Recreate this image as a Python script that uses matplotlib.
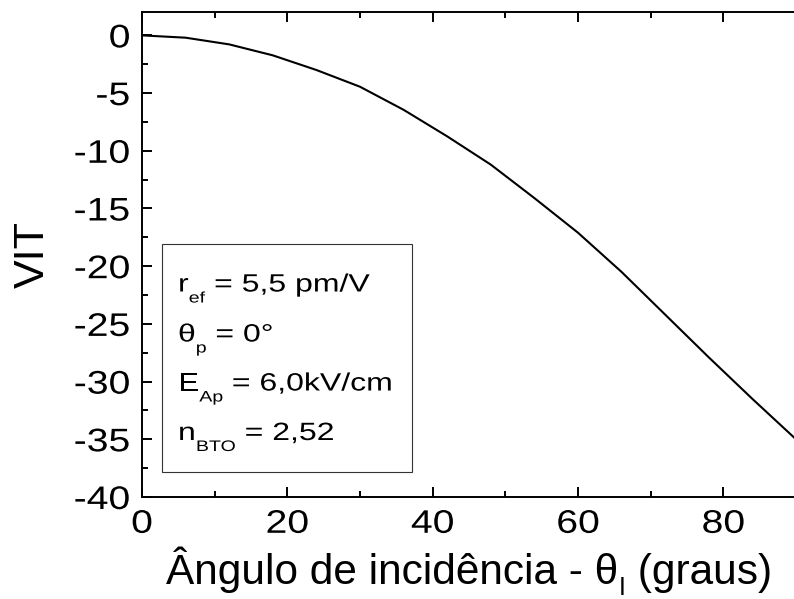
import matplotlib
matplotlib.use("Agg")
import matplotlib.pyplot as plt
from matplotlib.patches import Rectangle
from matplotlib.transforms import IdentityTransform, Affine2D
from matplotlib.patheffects import AbstractPathEffect
from matplotlib.ticker import MultipleLocator

plt.rcParams['font.family'] = ['Liberation Sans', 'DejaVu Sans']

# Incidence angle (degrees) and computed VIT
theta_i = [0, 6, 12, 18, 24, 30, 36, 42, 48, 54, 60, 66, 72, 78, 84, 90]
vit = [0.0, -0.2, -0.78, -1.73, -3.0, -4.45, -6.45, -8.75, -11.2, -14.1,
       -17.1, -20.5, -24.2, -27.9, -31.5, -35.0]

x_ticks = [0, 20, 40, 60, 80]
y_ticks = [0, -5, -10, -15, -20, -25, -30, -35, -40]

# Parameter box lines: list of (text, is_subscript) segments
param_lines = [
    [("r", False), ("ef", True), (" = 5,5 pm/V", False)],
    [("θ", False), ("p", True), (" = 0°", False)],
    [("E", False), ("Ap", True), (" = 6,0kV/cm", False)],
    [("n", False), ("BTO", True), (" = 2,52", False)],
]
xlabel_segments = [("Ângulo de incidência - θ", False), ("I", True), (" (graus)", False)]

TICK_STRETCH = 1.2   # horizontal widening of tick lettering
BOX_STRETCH = 1.28   # horizontal widening of box lettering


class HStretch(AbstractPathEffect):
    """Widen glyphs horizontally about the left origin, ink centre or ink right edge."""

    def __init__(self, sx, anchor='left'):
        super().__init__()
        self.sx = sx
        self.anchor = anchor

    def draw_path(self, renderer, gc, tpath, affine, rgbFace=None):
        if self.anchor == 'left':
            x0 = affine.transform((0, 0))[0]
        else:
            ext = tpath.get_extents(affine)
            x0 = ext.x1 if self.anchor == 'right' else 0.5 * (ext.x0 + ext.x1)
        tr = affine + Affine2D().translate(-x0, 0).scale(self.sx, 1).translate(x0, 0)
        renderer.draw_path(gc, tpath, tr, rgbFace)


W, H = 794, 599
fig = plt.figure(figsize=(W / 100, H / 100), dpi=100)
ax = fig.add_axes([142 / W, 1 - 497 / H, (796 - 142) / W, (497 - 12.3) / H])

ax.plot(theta_i, vit, color='black', lw=1.5)
ax.set_xlim(0, 90)
ax.set_ylim(-40, 2)
ax.set_xticks(x_ticks)
ax.set_yticks(y_ticks)
ax.xaxis.set_minor_locator(MultipleLocator(10))
ax.yaxis.set_minor_locator(MultipleLocator(2.5))
ax.tick_params(which='both', direction='in', top=True, right=False,
               width=1.4, labelsize=23.5)
ax.tick_params(which='major', length=7.5)
ax.tick_params(which='minor', length=4.3)
ax.tick_params(axis='y', pad=8.5)
ax.tick_params(axis='x', pad=8.5)
for s in ax.spines.values():
    s.set_linewidth(1.4)
ax.set_yticklabels([str(v) for v in y_ticks])
ax.set_xticklabels([str(v) for v in x_ticks])

# Parameter box
ax.add_patch(Rectangle((162 / W, 1 - 472.3 / H), (412.3 - 162) / W, (472.3 - 244.3) / H,
                       transform=fig.transFigure, fill=False, edgecolor='#333333',
                       lw=0.8, zorder=3))

fig.canvas.draw()
renderer = fig.canvas.get_renderer()

for lab in ax.get_yticklabels():
    lab.set_path_effects([HStretch(TICK_STRETCH, 'right')])
for lab in ax.get_xticklabels():
    lab.set_path_effects([HStretch(TICK_STRETCH, 'center')])


def rich_text(x_px, base_px, segments, size, sub_size, drop_px, sx=1.0,
              measure_only=False):
    x = x_px
    for text, sub in segments:
        fs = sub_size if sub else size
        y = H - base_px - (drop_px if sub else 0)
        t = fig.text(x, y, text, fontsize=fs, transform=IdentityTransform(),
                     ha='left', va='baseline', color='black')
        bb = t.get_window_extent(renderer)
        x += bb.width * sx
        if measure_only:
            t.remove()
        elif sx != 1.0:
            t.set_path_effects([HStretch(sx, 'left')])
    return x - x_px


baselines = [291.5, 341.5, 390.5, 440.0]
for segs, b in zip(param_lines, baselines):
    rich_text(178, b, segs, 18, 11, 11, sx=BOX_STRETCH)

# x axis label centred under the axes
width = rich_text(0, 0, xlabel_segments, 30.5, 18, 11, measure_only=True)
center = (142 + 796) / 2
rich_text(center - width / 2, 584, xlabel_segments, 30.5, 18, 11)

# y axis label
fig.text(44, H - 255, "VIT", fontsize=31, rotation=90, rotation_mode='anchor',
         ha='center', va='baseline', transform=IdentityTransform())

fig.savefig("out.png", dpi=100)
